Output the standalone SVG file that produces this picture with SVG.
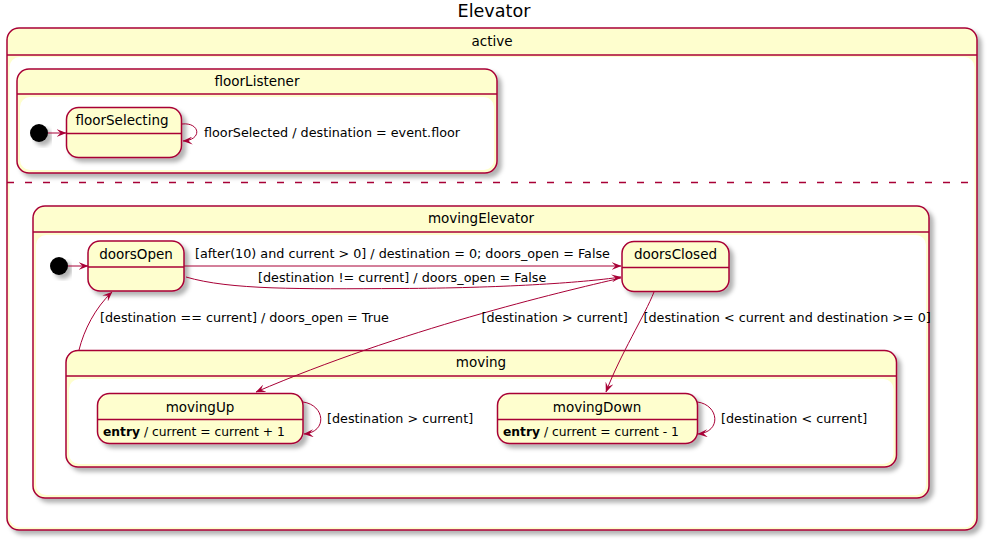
<svg xmlns="http://www.w3.org/2000/svg" width="989" height="540" viewBox="0 0 989 540">
<style>
.st{fill:#FEFECE;stroke:#A80036;stroke-width:1.5}
.in{fill:#FFFFFF;stroke:none}
.ln{stroke:#A80036;stroke-width:1.5;fill:none}
.dash{stroke:#A80036;stroke-width:1.5;stroke-dasharray:7,11;fill:none}
.cn{fill:none;stroke:#A80036;stroke-width:1;marker-end:url(#ah)}
.ini{fill:#000;stroke:none}
text{font-family:"DejaVu Sans","Liberation Sans",sans-serif;fill:#000}
.nm{font-size:13.5px;text-anchor:middle}
.lb{font-size:12.75px}
.en{font-size:12.3px}
.ttl{font-size:17.6px;text-anchor:middle}
</style>
<defs>
<filter id="sh" x="-10%" y="-10%" width="130%" height="140%">
<feGaussianBlur in="SourceAlpha" stdDeviation="2"/>
<feOffset dx="4" dy="4" result="b"/>
<feFlood flood-color="#000" flood-opacity="0.3"/>
<feComposite in2="b" operator="in"/>
<feMerge><feMergeNode/><feMergeNode in="SourceGraphic"/></feMerge>
</filter>
<marker id="ah" viewBox="0 0 10 8" refX="9.5" refY="4" markerWidth="10" markerHeight="8" orient="auto" markerUnits="userSpaceOnUse">
<path d="M0,0 L10,4 L0,8 L4,4 Z" fill="#A80036"/>
</marker>
</defs>

<text class="ttl" x="494" y="17">Elevator</text>

<g id="active">
<rect class="st" x="7" y="28" width="970" height="502" rx="12" filter="url(#sh)"/>
<rect class="in" x="9.5" y="57" width="965" height="470.5" rx="10"/>
<line class="ln" x1="7" y1="55" x2="977" y2="55"/>
<text class="nm" x="492" y="46">active</text>
<line class="dash" x1="7" y1="182.5" x2="977" y2="182.5"/>
</g>

<g id="floorListener">
<rect class="st" x="17" y="69" width="480" height="104" rx="12" filter="url(#sh)"/>
<rect class="in" x="20" y="97" width="474" height="73" rx="10"/>
<line class="ln" x1="17" y1="94" x2="497" y2="94"/>
<text class="nm" x="257" y="86">floorListener</text>
</g>

<g id="init1">
<circle class="ini" cx="39" cy="133" r="9" filter="url(#sh)"/>
</g>

<g id="floorSelecting">
<rect class="st" x="66.5" y="107.5" width="115" height="50" rx="12" filter="url(#sh)"/>
<line class="ln" x1="66.5" y1="133.5" x2="181.5" y2="133.5"/>
<text class="nm" x="122" y="125">floorSelecting</text>
</g>

<g id="movingElevator">
<rect class="st" x="33" y="206" width="896" height="292" rx="12" filter="url(#sh)"/>
<rect class="in" x="36" y="235" width="890" height="260" rx="10"/>
<line class="ln" x1="33" y1="232" x2="929" y2="232"/>
<text class="nm" x="481" y="223">movingElevator</text>
</g>

<g id="init2">
<circle class="ini" cx="59" cy="266" r="9" filter="url(#sh)"/>
</g>

<g id="doorsOpen">
<rect class="st" x="88" y="241" width="96" height="50" rx="12" filter="url(#sh)"/>
<line class="ln" x1="88" y1="267" x2="184" y2="267"/>
<text class="nm" x="136" y="258.5">doorsOpen</text>
</g>

<g id="doorsClosed">
<rect class="st" x="622" y="241.5" width="107" height="50" rx="12" filter="url(#sh)"/>
<line class="ln" x1="622" y1="267.5" x2="729" y2="267.5"/>
<text class="nm" x="675.5" y="258.5">doorsClosed</text>
</g>

<g id="moving">
<rect class="st" x="66" y="350.5" width="830.5" height="116.5" rx="12" filter="url(#sh)"/>
<rect class="in" x="69" y="379" width="824.5" height="85" rx="10"/>
<line class="ln" x1="66" y1="376" x2="896.5" y2="376"/>
<text class="nm" x="481" y="367">moving</text>
</g>

<g id="movingUp">
<rect class="st" x="97.5" y="393.5" width="205.5" height="50" rx="12" filter="url(#sh)"/>
<line class="ln" x1="97.5" y1="419.5" x2="303" y2="419.5"/>
<text class="nm" x="200" y="411.5">movingUp</text>
<text class="en" x="103" y="436"><tspan font-weight="bold">entry</tspan> / current = current + 1</text>
</g>

<g id="movingDown">
<rect class="st" x="497.5" y="393.5" width="200" height="50" rx="12" filter="url(#sh)"/>
<line class="ln" x1="497.5" y1="419.5" x2="697.5" y2="419.5"/>
<text class="nm" x="597" y="411.5">movingDown</text>
<text class="en" x="503" y="436"><tspan font-weight="bold">entry</tspan> / current = current - 1</text>
</g>

<g id="connectors">
<path class="cn" d="M48,133 L66,133"/>
<path class="cn" d="M182,124 C200,122 203,140 183,141"/>
<path class="cn" d="M68,266 L88,266"/>
<path class="cn" d="M184,266 L621,266"/>
<path class="cn" d="M186,277 C230,290 300,289 400,288.5 C500,288 580,283 621,277"/>
<path class="cn" d="M621,278 C560,292 400,330 256,392"/>
<path class="cn" d="M654,292 C645,315 620,355 606,392"/>
<path class="cn" d="M79,350 C84,330 95,308 112,292"/>
<path class="cn" d="M303,402 C325,405 328,432 304,434"/>
<path class="cn" d="M697.5,402 C719,405 722,432 698,434"/>
<text class="lb" x="204" y="137">floorSelected / destination = event.floor</text>
<text class="lb" x="195" y="258">[after(10) and current &gt; 0] / destination = 0; doors_open = False</text>
<text class="lb" x="258" y="281.5">[destination != current] / doors_open = False</text>
<text class="lb" x="100" y="321.5">[destination == current] / doors_open = True</text>
<text class="lb" x="481.5" y="321.5">[destination &gt; current]</text>
<text class="lb" x="643.5" y="321.5">[destination &lt; current and destination &gt;= 0]</text>
<text class="lb" x="327" y="423">[destination &gt; current]</text>
<text class="lb" x="721" y="423">[destination &lt; current]</text>
</g>
</svg>
